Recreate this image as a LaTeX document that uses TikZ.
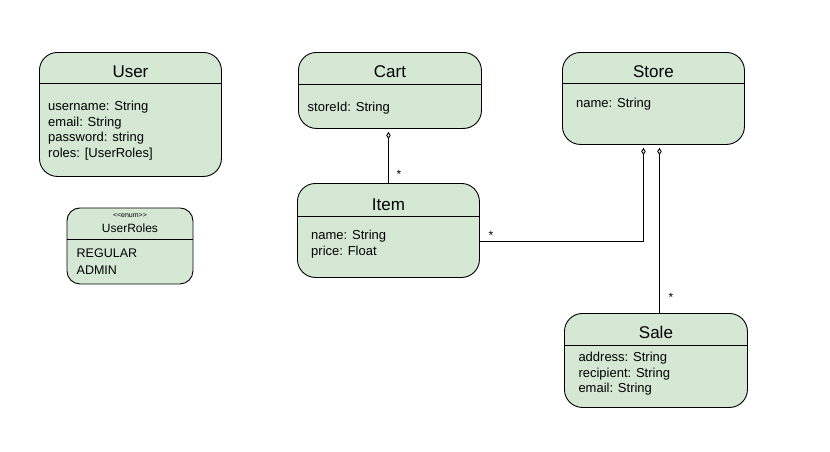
\documentclass[tikz,border=0pt]{standalone}
\usepackage{xcolor}
\usepackage{tikz}
\usepackage{fontspec}
\setmainfont{Liberation Sans}
\usetikzlibrary{arrows.meta, positioning, calc}
\definecolor{umlgreen}{HTML}{D5E8D4}
\definecolor{umlline}{HTML}{000000}

\begin{document}
\begin{tikzpicture}[x=1pt, y=-1pt,
    classbox/.style={rectangle, rounded corners=18pt, draw=umlline, fill=umlgreen, line width=0.9pt, anchor=north west, inner sep=0pt},
    title/.style={font=\fontsize{17}{20}\selectfont, anchor=base},
    attrs/.style={font=\fontsize{13}{15.4}\selectfont, align=left, anchor=base west, inner sep=0pt},
    mult/.style={font=\fontsize{12}{14}\selectfont, anchor=base, inner sep=0pt},
    assoc/.style={{Diamond[open, length=7pt, width=4.5pt]}-, line width=0.9pt, shorten <=3pt}
]
\useasboundingbox (0,0) rectangle (830,451);

% User (attrs placed by the baseline of their last line)
\node[classbox, minimum width=182pt, minimum height=124pt] (user) at (39,52) {};
\draw[line width=0.9pt] (user.west |- 0,83) -- (user.east |- 0,83);
\node[title] (usertitle) at (user.north |- 0,77.7) {User};
\node[attrs] (userattrs) at (48,157) {username: String\\email: String\\password: string\\roles: [UserRoles]};

% UserRoles
\node[classbox, rounded corners=13pt, minimum width=126pt, minimum height=76pt] (roles) at (66.5,207.5) {};
\draw[line width=0.9pt] (roles.west |- 0,239) -- (roles.east |- 0,239);
\node[font=\fontsize{7}{8}\selectfont, inner sep=0pt] (rolesstereo) at (roles.north |- 0,215) {<{}<enum>{}>};
\node[title, font=\fontsize{12}{14}\selectfont] (rolestitle) at (roles.north |- 0,232.3) {UserRoles};
\node[attrs, font=\fontsize{12.5}{16.7}\selectfont] (rolesattrs) at (76.5,274) {REGULAR\\ADMIN};

% Cart
\node[classbox, minimum width=183pt, minimum height=76pt] (cart) at (298,52) {};
\draw[line width=0.9pt] (cart.west |- 0,84) -- (cart.east |- 0,84);
\node[title] (carttitle) at (cart.north |- 0,77.7) {Cart};
\node[attrs] (cartattrs) at (307.5,111) {storeId: String};

% Store
\node[classbox, minimum width=182pt, minimum height=92pt] (store) at (562,52) {};
\draw[line width=0.9pt] (store.west |- 0,83.5) -- (store.east |- 0,83.5);
\node[title] (storetitle) at (store.north |- 0,77.7) {Store};
\node[attrs] (storeattrs) at (576,107.5) {name: String};

% Item
\node[classbox, minimum width=182pt, minimum height=94pt] (item) at (297,183) {};
\draw[line width=0.9pt] (item.west |- 0,216.5) -- (item.east |- 0,216.5);
\node[title] (itemtitle) at (item.north |- 0,210.7) {Item};
\node[attrs, font=\fontsize{13}{15.7}\selectfont] (itemattrs) at (311,255) {name: String\\price: Float};

% Sale
\node[classbox, minimum width=183pt, minimum height=94pt] (sale) at (564,313) {};
\draw[line width=0.9pt] (sale.west |- 0,345) -- (sale.east |- 0,345);
\node[title] (saletitle) at (sale.north |- 0,338.7) {Sale};
\node[attrs] (saleattrs) at (578.3,392.4) {address: String\\recipient: String\\email: String};

% Associations
\draw[assoc] ([xshift=-1.5pt]cart.south) -- ([xshift=-1.5pt]cart.south |- item.north);
\node[mult] (cartitem) at (399,178) {*};
\draw[assoc] ([xshift=-10pt]store.south) |- ([yshift=-11pt]item.east);
\node[mult] (storeitem) at (491,239) {*};
\draw[assoc] ([xshift=6pt]store.south) -- ([xshift=6pt]store.south |- sale.north);
\node[mult] (storesale) at (671,301) {*};

\end{tikzpicture}
\end{document}
